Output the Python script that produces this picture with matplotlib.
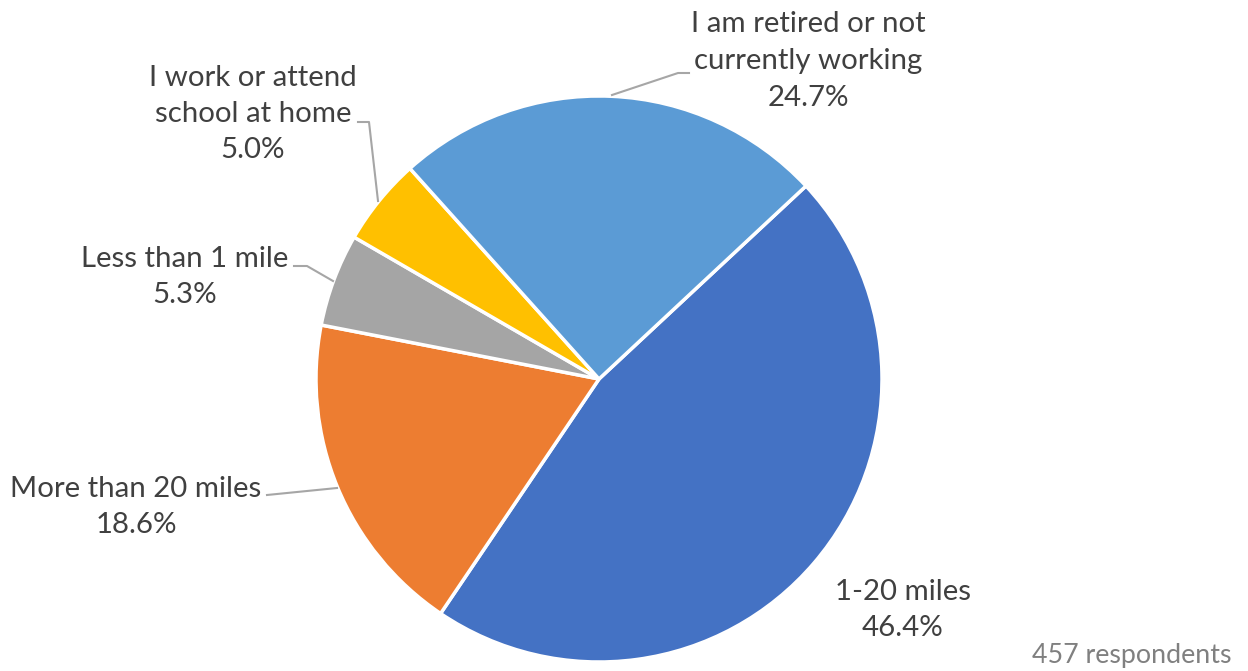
import matplotlib.pyplot as plt

categories = ["1-20 miles", "More than 20 miles", "Less than 1 mile",
              "I work or attend\nschool at home", "I am retired or not\ncurrently working"]
shares = [46.4, 18.6, 5.3, 5.0, 24.7]
colors = ["#4472C4", "#ED7D31", "#A5A5A5", "#FFC000", "#5B9BD5"]
respondents = 457

W, H = 1248, 671
fig = plt.figure(figsize=(W / 100, H / 100), dpi=100)
ax = fig.add_axes([0, 0, 1, 1])

# pie laid out in pixel units, y measured from the bottom
cx, cy, r = 599, H - 379, 283
ax.pie(shares, colors=colors, startangle=43, counterclock=False,
       center=(cx, cy), radius=r,
       wedgeprops=dict(edgecolor="white", linewidth=2.5))
ax.set_xlim(0, W)
ax.set_ylim(0, H)
ax.set_aspect("auto")
ax.axis("off")

font = ["Lato", "DejaVu Sans"]
txt = "#404040"
line = "#A6A6A6"

# label centre (x, y from top) and leader polyline for each slice
label_pos = [(903, 610), (136, 507), (185, 277), (253, 114), (808, 61)]
leaders = [None,
           [(337, 488), (267, 495)],
           [(333, 281), (307, 266), (294, 266)],
           [(378, 201), (369, 122), (358, 122)],
           [(612, 95), (678, 73), (689, 73)]]

for name, val, (lx, ly), pts in zip(categories, shares, label_pos, leaders):
    ax.text(lx, H - ly, f"{name}\n{val:.1f}%", ha="center", va="center",
            fontsize=21.2, color=txt, family=font, linespacing=1.5)
    if pts:
        xs = [p[0] for p in pts]
        ys = [H - p[1] for p in pts]
        ax.plot(xs, ys, color=line, lw=1.5)

ax.text(1232, H - 656, f"{respondents} respondents", ha="right", va="center",
        fontsize=19.3, color="#808080", family=font)

fig.savefig("out.png", dpi=100)
